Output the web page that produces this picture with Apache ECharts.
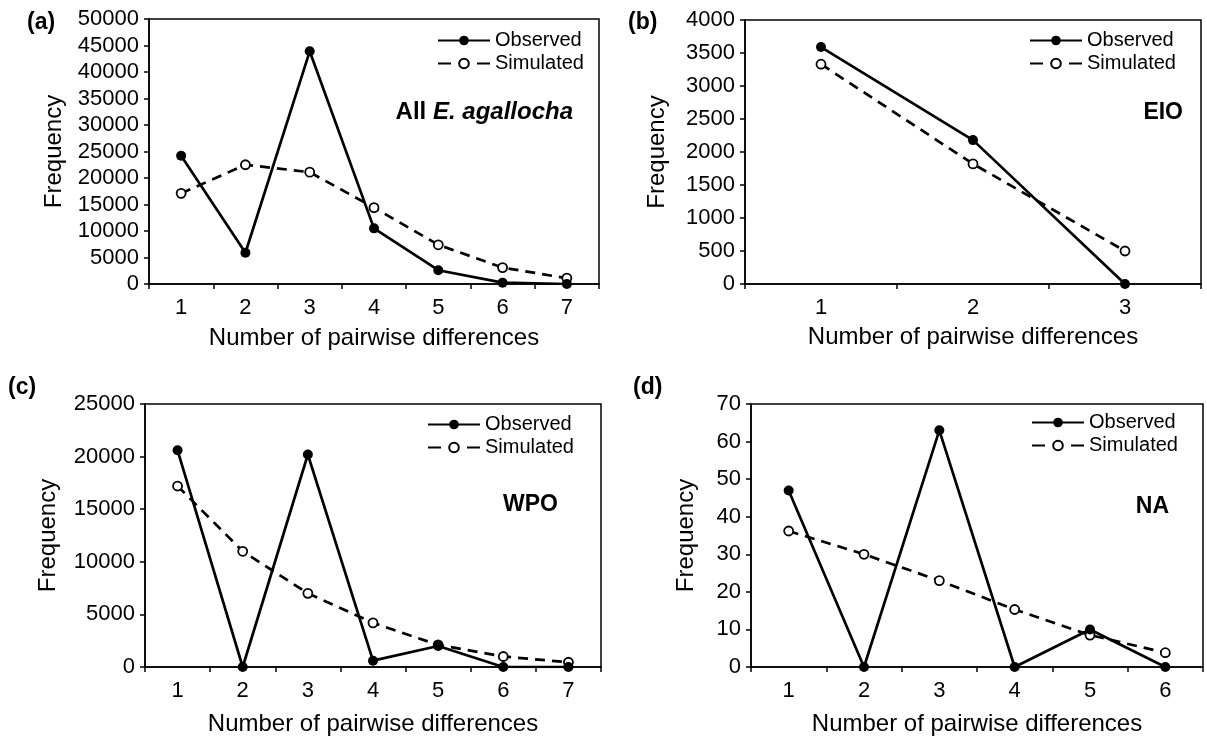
<!DOCTYPE html>
<html>
<head>
<meta charset="utf-8">
<script src="https://cdn.jsdelivr.net/npm/echarts@6/dist/echarts.min.js"></script>
<style>
  html, body { margin: 0; padding: 0; background: #fff; }
  #chart { width: 1207px; height: 737px; }
</style>
</head>
<body>
<div id="chart"></div>
<script>
// x categories for each panel
const catsA = ['1', '2', '3', '4', '5', '6', '7'];
const catsB = ['1', '2', '3'];
const catsC = ['1', '2', '3', '4', '5', '6', '7'];
const catsD = ['1', '2', '3', '4', '5', '6'];

// (a) All E. agallocha
const obsA = [24200, 5900, 43900, 10500, 2600, 250, 0];
const simA = [17100, 22500, 21100, 14400, 7400, 3100, 1100];
// (b) EIO
const obsB = [3590, 2180, 0];
const simB = [3330, 1820, 500];
// (c) WPO
const obsC = [20600, 0, 20200, 600, 2000, 0, 0];
const simC = [17200, 11000, 7000, 4200, 2100, 1000, 450];
// (d) NA
const obsD = [47, 0, 63, 0, 10, 0];
const simD = [36.2, 30, 23, 15.3, 8.5, 3.8];

// y axis ranges: [max, interval]
const yRange = [[50000, 5000], [4000, 500], [25000, 5000], [70, 10]];

const FONT = '"Liberation Sans", Arial, sans-serif';

const panels = [
  { cats: catsA, obs: obsA, sim: simA, grid: { left: 149, top: 19, width: 450, height: 265 }, nameGapX: 42, nameGapY: 83, legend: { left: 437, top: 29 } },
  { cats: catsB, obs: obsB, sim: simB, grid: { left: 745, top: 20, width: 456, height: 264 }, nameGapX: 41, nameGapY: 76, legend: { left: 1029, top: 29 } },
  { cats: catsC, obs: obsC, sim: simC, grid: { left: 145, top: 404, width: 456, height: 264 }, nameGapX: 45, nameGapY: 85, legend: { left: 427, top: 413 } },
  { cats: catsD, obs: obsD, sim: simD, grid: { left: 751, top: 404, width: 452, height: 264 }, nameGapX: 45, nameGapY: 53, legend: { left: 1031, top: 411 } },
];

const chart = echarts.init(document.getElementById('chart'));

const grid = [];
const xAxis = [];
const yAxis = [];
const series = [];
const legend = [];

panels.forEach((p, i) => {
  grid.push({
    ...p.grid,
    show: true,
    borderColor: '#000',
    borderWidth: 1.5,
    containLabel: false,
  });
  xAxis.push({
    type: 'category',
    gridIndex: i,
    data: p.cats,
    boundaryGap: true,
    name: 'Number of pairwise differences',
    nameLocation: 'middle',
    nameGap: p.nameGapX,
    nameTextStyle: { fontFamily: FONT, fontSize: 24, color: '#000' },
    axisLine: { lineStyle: { color: '#000', width: 1.5 } },
    axisTick: { show: true, length: 5, lineStyle: { color: '#000', width: 1.5 } },
    axisLabel: { fontFamily: FONT, fontSize: 22, color: '#000', margin: 13 },
    splitLine: { show: false },
  });
  yAxis.push({
    type: 'value',
    gridIndex: i,
    min: 0,
    max: yRange[i][0],
    interval: yRange[i][1],
    name: 'Frequency',
    nameLocation: 'middle',
    nameRotate: 90,
    nameGap: p.nameGapY,
    nameTextStyle: { fontFamily: FONT, fontSize: 24, color: '#000' },
    axisLine: { show: true, lineStyle: { color: '#000', width: 1.5 } },
    axisTick: { show: true, length: 5, lineStyle: { color: '#000', width: 1.5 } },
    axisLabel: { fontFamily: FONT, fontSize: 22, color: '#000', margin: 10, formatter: (v) => String(v) },
    splitLine: { show: false },
  });
  series.push({
    name: 'Simulated',
    type: 'line',
    xAxisIndex: i,
    yAxisIndex: i,
    data: p.sim,
    symbol: 'circle',
    symbolSize: 9,
    itemStyle: { color: '#fff', borderColor: '#000', borderWidth: 1.8 },
    lineStyle: { color: '#000', width: 2.7, type: [10, 7] },
    z: 2,
  });
  series.push({
    name: 'Observed',
    type: 'line',
    xAxisIndex: i,
    yAxisIndex: i,
    data: p.obs,
    symbol: 'circle',
    symbolSize: 10,
    itemStyle: { color: '#000' },
    lineStyle: { color: '#000', width: 2.7 },
    z: 3,
  });
  legend.push({
    data: [
      { name: 'Observed' },
      { name: 'Simulated', lineStyle: { type: [13, 26] } },
    ],
    orient: 'vertical',
    left: p.legend.left,
    top: p.legend.top,
    padding: 0,
    itemWidth: 52,
    itemHeight: 12,
    itemGap: 0,
    itemTextGap: 5,
    textStyle: { fontFamily: FONT, fontSize: 20, color: '#000', lineHeight: 23 },
  });
});

function label(text, x, y, align) {
  return {
    type: 'text',
    x: x,
    y: y,
    style: {
      text: text,
      fontFamily: FONT,
      fontSize: 23,
      fontWeight: 'bold',
      fill: '#000',
      align: align || 'left',
      verticalAlign: 'middle',
    },
  };
}

const graphic = [
  label('(a)', 27, 23),
  label('(b)', 628, 23),
  label('(c)', 8, 388),
  label('(d)', 633, 388),
  {
    type: 'text',
    x: 573,
    y: 112,
    style: {
      text: '{b|All }{bi|E. agallocha}',
      align: 'right',
      verticalAlign: 'middle',
      rich: {
        b: { fontFamily: FONT, fontSize: 24, fontWeight: 'bold', fill: '#000' },
        bi: { fontFamily: FONT, fontSize: 24, fontWeight: 'bold', fontStyle: 'italic', fill: '#000' },
      },
    },
  },
  label('EIO', 1183, 113, 'right'),
  label('WPO', 558, 505, 'right'),
  label('NA', 1169, 507, 'right'),
];

chart.setOption({
  animation: false,
  backgroundColor: '#fff',
  grid,
  xAxis,
  yAxis,
  series,
  legend,
  graphic,
});
</script>
</body>
</html>
